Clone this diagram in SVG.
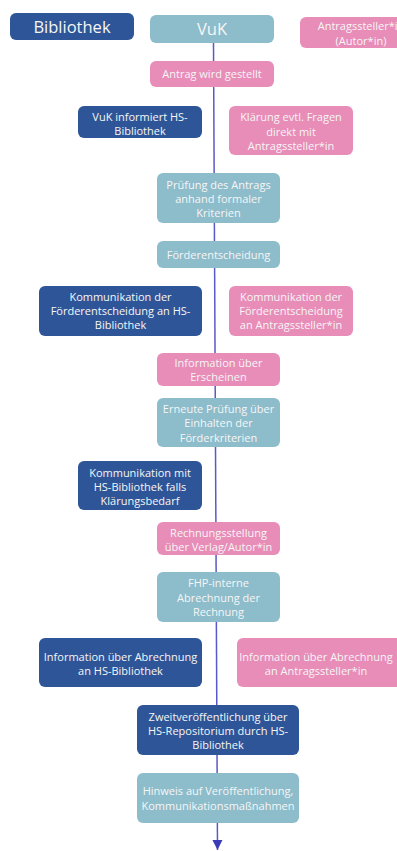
<svg xmlns="http://www.w3.org/2000/svg" width="397" height="851" viewBox="0 0 397 851">
<style>
.b{fill:#2e5597}.t{fill:#8dbccb}.p{fill:#e88cb8}
text{font-family:"Open Sans","Noto Sans",sans-serif;font-size:11px;fill:#f6f6f6;text-anchor:middle}
.big{font-size:16.5px}
</style>
<defs>
<marker id="ah" viewBox="0 0 10 10" refX="10" refY="5" markerWidth="10" markerHeight="12" markerUnits="userSpaceOnUse" orient="auto">
<path d="M0,0 L10,5 L0,10 Z" fill="#3b3bb8"/>
</marker>
</defs>
<rect width="397" height="851" fill="#ffffff"/>
<g id="connectors">
<line x1="213.5" y1="43" x2="217.5" y2="850" stroke="#5a5ac6" stroke-width="1.5" marker-end="url(#ah)"/>
</g>
<g id="n-bibliothek"><rect class="b" x="10" y="13" width="124" height="27" rx="6"/><text class="big" x="72" y="32.5">Bibliothek</text></g>
<g id="n-vuk"><rect class="t" x="150" y="15" width="124" height="28" rx="6"/><text class="big" x="212" y="35">VuK</text></g>
<g id="n-antragsteller"><rect class="p" x="300" y="17" width="122" height="31" rx="6"/><text x="361" y="30">Antragssteller*in</text><text x="361" y="44.5">(Autor*in)</text></g>
<g id="n-antrag"><rect class="p" x="150" y="61" width="124" height="26" rx="6"/><text x="212" y="78">Antrag wird gestellt</text></g>
<g id="n-vuk-info"><rect class="b" x="78" y="106" width="124" height="32" rx="6"/><text x="140" y="120.5">VuK informiert HS-</text><text x="140" y="134.5">Bibliothek</text></g>
<g id="n-klaerung"><rect class="p" x="229" y="106" width="124" height="49" rx="6"/><text x="291" y="121">Klärung evtl. Fragen</text><text x="291" y="135.5">direkt mit</text><text x="291" y="150">Antragssteller*in</text></g>
<g id="n-pruefung"><rect class="t" x="157" y="173" width="123" height="50" rx="6"/><text x="218.5" y="189">Prüfung des Antrags</text><text x="218.5" y="203">anhand formaler</text><text x="218.5" y="217">Kriterien</text></g>
<g id="n-foerder"><rect class="t" x="157" y="241" width="123" height="27" rx="6"/><text x="218.5" y="258.5">Förderentscheidung</text></g>
<g id="n-komm-bib"><rect class="b" x="39" y="286" width="163" height="50" rx="6"/><text x="120.5" y="301">Kommunikation der</text><text x="120.5" y="315">Förderentscheidung an HS-</text><text x="120.5" y="329">Bibliothek</text></g>
<g id="n-komm-ant"><rect class="p" x="229" y="286" width="124" height="50" rx="6"/><text x="291" y="301">Kommunikation der</text><text x="291" y="315">Förderentscheidung</text><text x="291" y="329">an Antragssteller*in</text></g>
<g id="n-erscheinen"><rect class="p" x="157" y="353" width="123" height="33" rx="6"/><text x="218.5" y="367">Information über</text><text x="218.5" y="381">Erscheinen</text></g>
<g id="n-erneut"><rect class="t" x="157" y="398" width="123" height="49" rx="6"/><text x="218.5" y="413">Erneute Prüfung über</text><text x="218.5" y="427">Einhalten der</text><text x="218.5" y="441.5">Förderkriterien</text></g>
<g id="n-komm-mit"><rect class="b" x="78" y="461" width="124" height="49" rx="6"/><text x="140" y="477">Kommunikation mit</text><text x="140" y="491">HS-Bibliothek falls</text><text x="140" y="505">Klärungsbedarf</text></g>
<g id="n-rechnung"><rect class="p" x="157" y="522" width="123" height="33" rx="6"/><text x="218.5" y="537">Rechnungsstellung</text><text x="218.5" y="551">über Verlag/Autor*in</text></g>
<g id="n-fhp"><rect class="t" x="157" y="572" width="123" height="50" rx="6"/><text x="218.5" y="587">FHP-interne</text><text x="218.5" y="601.5">Abrechnung der</text><text x="218.5" y="616">Rechnung</text></g>
<g id="n-abr-bib"><rect class="b" x="39" y="638" width="163" height="49" rx="6"/><text x="120.5" y="661">Information über Abrechnung</text><text x="120.5" y="675">an HS-Bibliothek</text></g>
<g id="n-abr-ant"><rect class="p" x="237" y="638" width="170" height="49" rx="6"/><text x="316" y="661">Information über Abrechnung</text><text x="316" y="675">an Antragssteller*in</text></g>
<g id="n-zweit"><rect class="b" x="137" y="705" width="162" height="50" rx="6"/><text x="218" y="721">Zweitveröffentlichung über</text><text x="218" y="735">HS-Repositorium durch HS-</text><text x="218" y="749">Bibliothek</text></g>
<g id="n-hinweis"><rect class="t" x="137" y="773" width="162" height="50" rx="6"/><text x="218" y="795">Hinweis auf Veröffentlichung,</text><text x="218" y="809.5">Kommunikationsmaßnahmen</text></g>
</svg>
